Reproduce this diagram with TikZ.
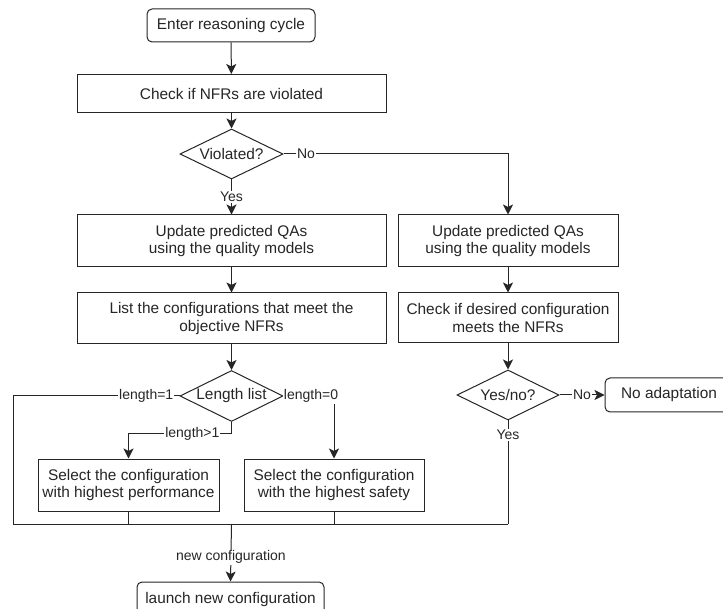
\documentclass[tikz,border=0pt]{standalone}
\usepackage{fontspec}
\setmainfont{Liberation Sans}
\usetikzlibrary{shapes.geometric,arrows.meta}
\begin{document}
\begin{tikzpicture}[x=1pt,y=-1pt,
 every node/.style={font=\fontsize{15.4}{17.5}\selectfont, text=black!85},
 proc/.style={draw=black!85, line width=1pt, inner sep=0pt, align=center},
 rnd/.style={proc, rounded corners=5pt},
 dec/.style={draw=black!85, diamond, aspect=2, inner sep=0pt, line width=1pt},
 lbl/.style={fill=white, inner sep=1pt, font=\fontsize{14}{16}\selectfont},
 link/.style={line width=1pt, draw=black!85},
 arr/.style={link, -{Stealth[length=10pt,width=10pt,inset=2.5pt]}}
]
\useasboundingbox (0,0) rectangle (723,609);
\fill[white] (0,0) rectangle (723,609);

\node[rnd, minimum width=168pt, minimum height=33pt] (enter) at (231,25.5) {Enter reasoning cycle};
\node[proc, minimum width=309pt, minimum height=38pt] (check) at (231.5,93.5) {Check if NFRs are violated};
\node[dec, minimum width=103pt, minimum height=50pt] (viol) at (231.5,154) {Violated?};
\node[proc, minimum width=309pt, minimum height=52pt] (upd1) at (231.5,241) {Update predicted QAs\\using the quality models};
\node[proc, minimum width=220pt, minimum height=52pt] (upd2) at (508,241) {Update predicted QAs\\using the quality models};
\node[proc, minimum width=309pt, minimum height=51pt] (list) at (231.5,318.5) {List the configurations that meet the\\objective NFRs};
\node[proc, minimum width=220pt, minimum height=50pt] (check2) at (508,318) {Check if desired configuration\\meets the NFRs};
\node[dec, minimum width=103pt, minimum height=51pt] (len) at (231.5,396) {Length list};
\node[dec, minimum width=102pt, minimum height=50pt] (yesno) at (508,395) {Yes/no?};
\node[rnd, minimum width=128pt, minimum height=34pt] (noad) at (669,395) {No adaptation};
\node[proc, minimum width=181pt, minimum height=52pt] (sel1) at (128.5,485) {Select the configuration\\with highest performance};
\node[proc, minimum width=180pt, minimum height=52pt] (sel2) at (334,485) {Select the configuration\\with the highest safety};
\node[rnd, minimum width=187pt, minimum height=36pt] (launch) at (230.5,600) {launch new configuration};

\coordinate (busL) at (13,524);
\coordinate (busR) at (508,524);
\coordinate (busM) at (231.5,524);

\draw[arr] (enter) -- (check);
\draw[arr] (check) -- (viol);
\draw[arr] (viol) -- node[lbl, pos=0.5] {Yes} (upd1);
\draw[arr] (viol.east) -- node[lbl, pos=0.1] {No} (508,154) -- (upd2.north);
\draw[arr] (upd1) -- (list);
\draw[arr] (upd2) -- (check2);
\draw[arr] (list) -- (len);
\draw[arr] (check2) -- (yesno);
\draw[arr] (yesno) -- node[lbl] {No} (noad);
\draw[link] (len.west) -- node[lbl, pos=0.2] {length=1} (13,396) -- (busL) -- (busR);
\draw[arr] (len.east) -- (334,396) -- (sel2.north);
\node[lbl] at (311,396) {length=0};
\draw[arr] (len.south) -- (231.5,434) -- node[lbl, pos=0.38] {length>1} (128.5,434) -- (sel1.north);
\draw[link] (yesno.south) -- node[lbl, pos=0.14] {Yes} (busR);
\draw[link] (sel1.south) -- (128.5,524);
\draw[link] (sel2.south) -- (334,524);
\draw[arr] (busM) -- node[lbl, pos=0.58] {new configuration} (launch.north);
\end{tikzpicture}
\end{document}
